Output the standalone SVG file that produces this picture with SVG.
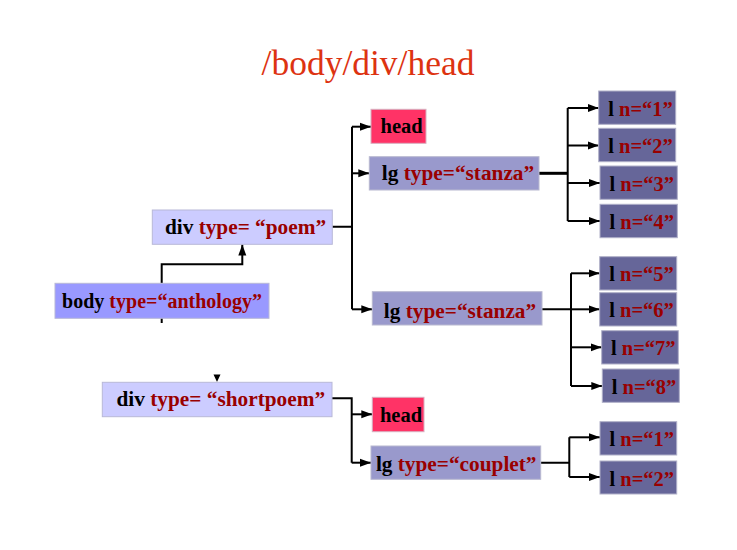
<svg xmlns="http://www.w3.org/2000/svg" width="737" height="550" viewBox="0 0 737 550">
<defs>
<marker id="arr" markerUnits="userSpaceOnUse" markerWidth="12" markerHeight="10" refX="11" refY="5" orient="auto">
<path d="M0,1 L11,5 L0,9 Z" fill="#000"/>
</marker>
<style>
.t{font-family:"Liberation Serif","Times New Roman",serif;font-weight:bold;font-size:20px;fill:#000;text-anchor:middle}
.s21{font-size:21.3px}
.s20{font-size:20.5px}
.a{fill:#990000}
.title{font-family:"Liberation Serif","Times New Roman",serif;font-size:35.5px;fill:#DD3311;text-anchor:middle}
.div{fill:#CCCCFF;stroke:#B8B8D8;stroke-width:1}
.body{fill:#9999FF;stroke:#B8B8D8;stroke-width:1}
.head{fill:#FF3366;stroke:#D8B0C0;stroke-width:1}
.lg{fill:#9999CC;stroke:#B8B8D0;stroke-width:1}
.l{fill:#666699;stroke:#B0B0C8;stroke-width:1}
.c{fill:none;stroke:#000;stroke-width:2}
.ca{fill:none;stroke:#000;stroke-width:2;marker-end:url(#arr)}
</style>
</defs>
<rect width="737" height="550" fill="#fff"/>
<text class="title" x="368" y="75">/body/div/head</text>

<g id="connectors">
<path class="ca" d="M161.7,283 V264.3 H242.3 V244.5"/>
<path class="c" d="M161.7,318 V323"/>
<path d="M213.5,374.5 L220.5,374.5 L217,382 Z" fill="#000"/>
<path class="c" d="M332,226.7 H352 M352,126.7 V309.3"/>
<path class="ca" d="M352,126.7 H371"/>
<path class="ca" d="M352,173.3 H369.3"/>
<path class="ca" d="M352,309.3 H372.3"/>
<path class="c" d="M539,173.3 H567.7" style="stroke-width:3"/>
<path class="c" d="M567.7,108 V221"/>
<path class="ca" d="M567.7,108 H598.7"/>
<path class="ca" d="M567.7,145.5 H598.7"/>
<path class="ca" d="M567.7,183 H600"/>
<path class="ca" d="M567.7,221 H600"/>
<path class="c" d="M542,309.3 H571 M571,273.3 V386"/>
<path class="ca" d="M571,273.3 H599.7"/>
<path class="ca" d="M571,309.3 H599.7"/>
<path class="ca" d="M571,347.3 H601.7"/>
<path class="ca" d="M571,386 H602.3"/>
<path class="c" d="M332,398.3 H351.7 V462.7"/>
<path class="ca" d="M351.7,414.3 H372.3"/>
<path class="ca" d="M351.7,462.7 H371"/>
<path class="c" d="M540.7,462.7 H569.3 M569.3,437.3 V477"/>
<path class="ca" d="M569.3,437.3 H600"/>
<path class="ca" d="M569.3,477 H600"/>
</g>

<g id="body">
<rect class="body" x="55" y="283.3" width="214" height="35"/>
<text class="t" x="162" y="308.3">body <tspan class="a">type=“anthology”</tspan></text>
</g>
<g id="div-poem">
<rect class="div" x="152.3" y="210" width="180" height="34.3"/>
<text class="t s21" x="245.5" y="234.3">div <tspan class="a">type= “poem”</tspan></text>
</g>
<g id="div-shortpoem">
<rect class="div" x="102.3" y="382.3" width="229.7" height="34.4"/>
<text class="t s21" x="220.8" y="405.5">div <tspan class="a">type= “shortpoem”</tspan></text>
</g>
<g id="head1">
<rect class="head" x="371" y="109.3" width="55" height="34"/>
<text class="t s20" x="401.7" y="133.3">head</text>
</g>
<g id="lg-stanza1">
<rect class="lg" x="369.3" y="156.7" width="169.7" height="33.3"/>
<text class="t s21" x="458" y="180.3">lg <tspan class="a">type=“stanza”</tspan></text>
</g>
<g id="lg-stanza2">
<rect class="lg" x="372.3" y="291.7" width="169.7" height="33.3"/>
<text class="t s21" x="460" y="318.3">lg <tspan class="a">type=“stanza”</tspan></text>
</g>
<g id="head2">
<rect class="head" x="372.3" y="397.3" width="51.7" height="34.4"/>
<text class="t s20" x="401" y="421.7">head</text>
</g>
<g id="lg-couplet">
<rect class="lg" x="371" y="446" width="169.7" height="33.3"/>
<text class="t s21" x="456.2" y="471">lg <tspan class="a">type=“couplet”</tspan></text>
</g>
<g id="l1">
<rect class="l" x="598.7" y="91" width="77" height="33.3"/>
<text class="t s20" x="640.5" y="116">l <tspan class="a">n=“1”</tspan></text>
</g>
<g id="l2">
<rect class="l" x="598.7" y="128.3" width="77" height="33.4"/>
<text class="t s20" x="640.5" y="153.3">l <tspan class="a">n=“2”</tspan></text>
</g>
<g id="l3">
<rect class="l" x="600" y="166" width="77.3" height="33.3"/>
<text class="t s20" x="641.8" y="190.7">l <tspan class="a">n=“3”</tspan></text>
</g>
<g id="l4">
<rect class="l" x="600" y="204.3" width="77.3" height="33.4"/>
<text class="t s20" x="641.8" y="229">l <tspan class="a">n=“4”</tspan></text>
</g>
<g id="l5">
<rect class="l" x="599.7" y="256.7" width="77" height="33.3"/>
<text class="t s20" x="641.5" y="281.3">l <tspan class="a">n=“5”</tspan></text>
</g>
<g id="l6">
<rect class="l" x="599.7" y="292.7" width="77" height="33.3"/>
<text class="t s20" x="641.5" y="317.3">l <tspan class="a">n=“6”</tspan></text>
</g>
<g id="l7">
<rect class="l" x="601.7" y="330.7" width="76.6" height="33.3"/>
<text class="t s20" x="643.3" y="355.3">l <tspan class="a">n=“7”</tspan></text>
</g>
<g id="l8">
<rect class="l" x="602.3" y="369" width="77" height="33.3"/>
<text class="t s20" x="644" y="393.7">l <tspan class="a">n=“8”</tspan></text>
</g>
<g id="l1b">
<rect class="l" x="600" y="421.7" width="76.7" height="33.3"/>
<text class="t s20" x="641.8" y="446.3">l <tspan class="a">n=“1”</tspan></text>
</g>
<g id="l2b">
<rect class="l" x="600" y="461" width="76.7" height="33"/>
<text class="t s20" x="641.8" y="485.7">l <tspan class="a">n=“2”</tspan></text>
</g>
</svg>
